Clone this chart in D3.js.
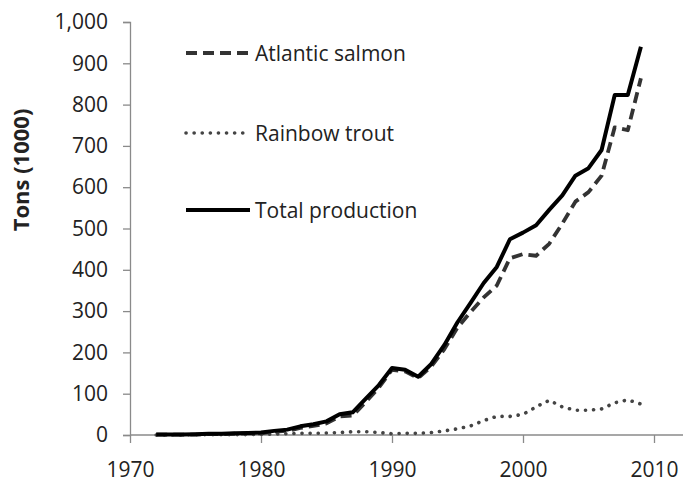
<!DOCTYPE html>
<html>
<head>
<meta charset="utf-8">
<script src="https://cdn.jsdelivr.net/npm/d3@7"></script>
<style>
  html, body { margin: 0; padding: 0; background: #ffffff; }
  svg { display: block; }
  text { font-family: "Open Sans", "Liberation Sans", sans-serif; fill: #222; }
</style>
</head>
<body>
<svg id="chart" width="683" height="484"></svg>
<script>
// ---- data (thousand tons) ----
const years = [1972,1973,1974,1975,1976,1977,1978,1979,1980,1981,1982,1983,1984,1985,1986,1987,1988,1989,1990,1991,1992,1993,1994,1995,1996,1997,1998,1999,2000,2001,2002,2003,2004,2005,2006,2007,2008,2009];
const atlanticSalmon = [1,1,1,1,2,2,3,4,4,8,10,17,22,28,45,47,80,115,158,154,138,166,208,260,298,333,362,428,438,434,463,512,565,588,628,745,738,864];
const rainbowTrout   = [0,0,0,1,1,1,1,1,2,2,3,4,4,5,6,8,8,6,3,4,4,6,10,15,22,35,45,45,50,68,84,68,60,60,63,78,85,75];
const totalProduction= [1,1,1,2,3,3,4,5,6,10,13,21,26,33,50,55,88,121,162,158,141,172,218,273,320,368,407,474,490,508,545,580,628,646,690,823,823,940];
const seriesNames = ["Atlantic salmon","Rainbow trout","Total production"];
const yTicks = [0,100,200,300,400,500,600,700,800,900,1000];
const xTicks = [1970,1980,1990,2000,2010];

const svg = d3.select("#chart");
const x = d3.scaleLinear().domain([1970, 2012]).range([130, 130 + 42*13.1]);
const y = d3.scaleLinear().domain([0, 1000]).range([435, 22]);

const axisColor = "#8a8a8a";

// y axis
const yAxis = d3.axisLeft(y).tickValues(yTicks).tickSize(7).tickPadding(15)
  .tickFormat(d3.format(","));
const gy = svg.append("g").attr("transform", "translate(130,0)").call(yAxis);
gy.select(".domain").attr("stroke", axisColor).attr("stroke-width", 1.3);
gy.selectAll(".tick line").attr("stroke", axisColor).attr("stroke-width", 1.3);
gy.selectAll(".tick text").attr("font-size", 21).attr("fill", "#222")
  .style("font-family", "'Open Sans', sans-serif");

// x axis
const xAxis = d3.axisBottom(x).tickValues(xTicks).tickSize(8).tickPadding(19)
  .tickFormat(d3.format("d"));
const gx = svg.append("g").attr("transform", "translate(0,435)").call(xAxis);
gx.select(".domain").attr("stroke", axisColor).attr("stroke-width", 1.3)
  .attr("d", `M130,0H683`);
gx.selectAll(".tick line").attr("stroke", axisColor).attr("stroke-width", 1.3);
gx.selectAll(".tick text").attr("font-size", 21).attr("fill", "#222")
  .style("font-family", "'Open Sans', sans-serif");

// y title
svg.append("text")
  .attr("transform", "translate(20,170) rotate(-90)")
  .attr("text-anchor", "middle")
  .attr("dominant-baseline", "central")
  .attr("font-size", 22)
  .attr("font-weight", "bold")
  .text("Tons (1000)");

const styles = [
  { data: atlanticSalmon, color: "#333", width: 3.8, dash: "11,6", cap: "butt" },
  { data: rainbowTrout,   color: "#444", width: 3.6, dash: "0.1,8", cap: "round" },
  { data: totalProduction,color: "#000", width: 4, dash: null, cap: "butt" }
];

const line = d3.line().x((d, i) => x(years[i])).y(d => y(d));

styles.forEach(s => {
  svg.append("path")
    .datum(s.data)
    .attr("d", line)
    .attr("fill", "none")
    .attr("stroke", s.color)
    .attr("stroke-width", s.width)
    .attr("stroke-linecap", s.cap)
    .attr("stroke-linejoin", "round")
    .attr("stroke-dasharray", s.dash);
});

// legend
const legendY = [53, 133, 210];
styles.forEach((s, i) => {
  const g = svg.append("g").attr("transform", `translate(0,${legendY[i]})`);
  g.append("line")
    .attr("x1", 186).attr("x2", i === 1 ? 244 : 250)
    .attr("y1", 0).attr("y2", 0)
    .attr("stroke", s.color)
    .attr("stroke-width", s.width)
    .attr("stroke-linecap", s.cap)
    .attr("stroke-dasharray", s.dash);
  g.append("text")
    .attr("x", 255).attr("y", 0)
    .attr("dominant-baseline", "central")
    .attr("font-size", 21)
    .text(seriesNames[i]);
});
</script>
</body>
</html>
